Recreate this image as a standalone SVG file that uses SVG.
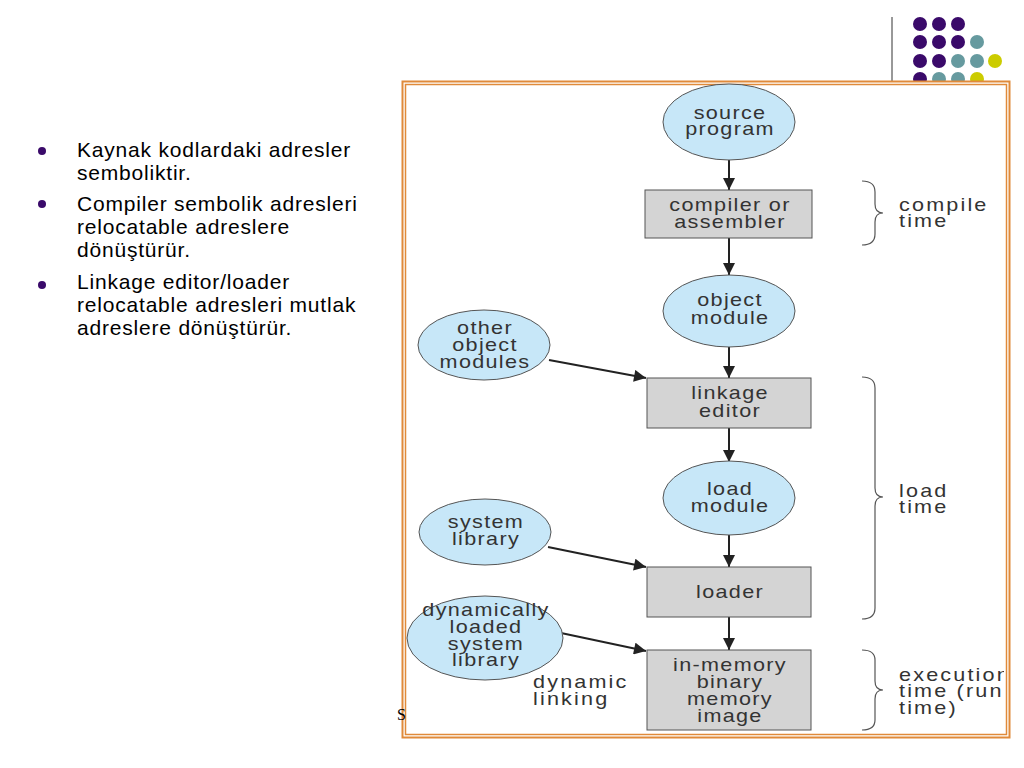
<svg xmlns="http://www.w3.org/2000/svg" width="1024" height="768" viewBox="0 0 1024 768">
<style>
.bt{font-family:"Liberation Sans",Arial,sans-serif;font-size:21px;fill:#000;letter-spacing:0.8px}
.t{font-family:"Liberation Sans",Arial,sans-serif;font-size:18px;fill:#333;text-anchor:middle;letter-spacing:1.1px}
.tl{font-family:"Liberation Sans",Arial,sans-serif;font-size:18px;fill:#333;letter-spacing:1.8px}
.el{fill:#c7e7f8;stroke:#555;stroke-width:1}
.bx{fill:#d4d4d4;stroke:#555;stroke-width:1}
.cn{stroke:#222;stroke-width:2;fill:none;marker-end:url(#ah)}
.br{stroke:#555;stroke-width:1.2;fill:none}
.p{fill:#3a0a6a}.g{fill:#669a9f}.y{fill:#cccc00}
</style>
<defs>
<marker id="ah" viewBox="0 0 10 10" refX="10" refY="5" markerWidth="6.5" markerHeight="6" markerUnits="strokeWidth" orient="auto">
<path d="M0,0L10,5L0,10z" fill="#222"/>
</marker>
<clipPath id="fc"><rect x="406" y="85" width="598" height="648"/></clipPath>
</defs>
<rect width="1024" height="768" fill="#fff"/>
<g id="deco">
<line x1="892" y1="17" x2="892" y2="83" stroke="#333" stroke-width="1"/>
<circle class="p" cx="920" cy="24" r="7"/><circle class="p" cx="939" cy="24" r="7"/><circle class="p" cx="958" cy="24" r="7"/>
<circle class="p" cx="920" cy="42" r="7"/><circle class="p" cx="939" cy="42" r="7"/><circle class="p" cx="958" cy="42" r="7"/><circle class="g" cx="977" cy="42" r="7"/>
<circle class="p" cx="920" cy="61" r="7"/><circle class="p" cx="939" cy="61" r="7"/><circle class="g" cx="958" cy="61" r="7"/><circle class="g" cx="977" cy="61" r="7"/><circle class="y" cx="995" cy="61" r="7"/>
<circle class="p" cx="920" cy="79" r="7"/><circle class="g" cx="939" cy="79" r="7"/><circle class="g" cx="958" cy="79" r="7"/><circle class="y" cx="977" cy="79" r="7"/>
</g>
<g id="bullets">
<circle class="p" cx="42" cy="151" r="4"/>
<circle class="p" cx="42" cy="204" r="4"/>
<circle class="p" cx="42" cy="285" r="4"/>
<text class="bt" x="77" y="157">Kaynak kodlardaki adresler</text>
<text class="bt" x="77" y="180">semboliktir.</text>
<text class="bt" x="77" y="211">Compiler sembolik adresleri</text>
<text class="bt" x="77" y="234">relocatable adreslere</text>
<text class="bt" x="77" y="257">dönüştürür.</text>
<text class="bt" x="77" y="289">Linkage editor/loader</text>
<text class="bt" x="77" y="312">relocatable adresleri mutlak</text>
<text class="bt" x="77" y="335">adreslere dönüştürür.</text>
</g>
<g id="frame">
<rect x="402.5" y="81.5" width="607" height="656" fill="#fff" stroke="#e08a3a" stroke-width="2"/>
<rect x="405.5" y="84.5" width="601" height="650" fill="#fff" stroke="#e08a3a" stroke-width="1.5"/>
</g>
<text x="397" y="720" font-family="Liberation Serif, serif" font-size="16" fill="#000">S</text>
<g id="connectors">
<line class="cn" x1="729" y1="160" x2="729" y2="190"/>
<line class="cn" x1="729" y1="238" x2="729" y2="275"/>
<line class="cn" x1="729" y1="347" x2="729" y2="378"/>
<line class="cn" x1="729" y1="428" x2="729" y2="462"/>
<line class="cn" x1="729" y1="535" x2="729" y2="567"/>
<line class="cn" x1="729" y1="617" x2="729" y2="650"/>
<line class="cn" x1="549" y1="360" x2="646" y2="378"/>
<line class="cn" x1="548" y1="547" x2="646" y2="567"/>
<line class="cn" x1="561" y1="633" x2="646" y2="651"/>
</g>
<g id="source"><ellipse class="el" cx="729" cy="122" rx="66" ry="38"/><text class="t" transform="matrix(1.2 0 0 1 730 119)">source</text><text class="t" transform="matrix(1.2 0 0 1 730 135)">program</text></g>
<g id="compiler"><rect class="bx" x="645" y="190" width="167" height="48"/><text class="t" transform="matrix(1.2 0 0 1 730 211)">compiler or</text><text class="t" transform="matrix(1.2 0 0 1 730 228)">assembler</text></g>
<g id="objmod"><ellipse class="el" cx="729" cy="311" rx="66" ry="36"/><text class="t" transform="matrix(1.2 0 0 1 730 306)">object</text><text class="t" transform="matrix(1.2 0 0 1 730 324)">module</text></g>
<g id="other"><ellipse class="el" cx="484" cy="345" rx="66" ry="35"/><text class="t" transform="matrix(1.2 0 0 1 485 334)">other</text><text class="t" transform="matrix(1.2 0 0 1 485 351)">object</text><text class="t" transform="matrix(1.2 0 0 1 485 368)">modules</text></g>
<g id="linkage"><rect class="bx" x="647" y="378" width="164" height="50"/><text class="t" transform="matrix(1.2 0 0 1 730 399)">linkage</text><text class="t" transform="matrix(1.2 0 0 1 730 417)">editor</text></g>
<g id="loadmod"><ellipse class="el" cx="729" cy="498" rx="66" ry="37"/><text class="t" transform="matrix(1.2 0 0 1 730 495)">load</text><text class="t" transform="matrix(1.2 0 0 1 730 512)">module</text></g>
<g id="syslib"><ellipse class="el" cx="485" cy="532" rx="66" ry="33"/><text class="t" transform="matrix(1.2 0 0 1 486 528)">system</text><text class="t" transform="matrix(1.2 0 0 1 486 545)">library</text></g>
<g id="loader"><rect class="bx" x="647" y="567" width="164" height="50"/><text class="t" transform="matrix(1.2 0 0 1 730 598)">loader</text></g>
<g id="dynlib"><ellipse class="el" cx="485" cy="638" rx="78" ry="42"/><text class="t" transform="matrix(1.2 0 0 1 486 616)">dynamically</text><text class="t" transform="matrix(1.2 0 0 1 486 633)">loaded</text><text class="t" transform="matrix(1.2 0 0 1 486 650)">system</text><text class="t" transform="matrix(1.2 0 0 1 486 666)">library</text></g>
<g id="inmem"><rect class="bx" x="647" y="650" width="164" height="80"/><text class="t" transform="matrix(1.2 0 0 1 730 671)">in-memory</text><text class="t" transform="matrix(1.2 0 0 1 730 688)">binary</text><text class="t" transform="matrix(1.2 0 0 1 730 705)">memory</text><text class="t" transform="matrix(1.2 0 0 1 730 722)">image</text></g>
<text class="tl" transform="matrix(1.2 0 0 1 533 688)">dynamic</text>
<text class="tl" transform="matrix(1.2 0 0 1 533 705)">linking</text>
<g id="braces">
<path class="br" d="M862,181 Q875,181 875,192 L875,204 Q875,213 883,213 Q875,213 875,222 L875,234 Q875,245 862,245"/>
<path class="br" d="M862,377 Q875,377 875,388 L875,488 Q875,497 883,497 Q875,497 875,506 L875,608 Q875,619 862,619"/>
<path class="br" d="M862,650 Q875,650 875,660 L875,681 Q875,690 883,690 Q875,690 875,699 L875,720 Q875,730 862,730"/>
</g>
<g id="times" clip-path="url(#fc)">
<text class="tl" transform="matrix(1.2 0 0 1 899 211)">compile</text>
<text class="tl" transform="matrix(1.2 0 0 1 899 227)">time</text>
<text class="tl" transform="matrix(1.2 0 0 1 899 497)">load</text>
<text class="tl" transform="matrix(1.2 0 0 1 899 513)">time</text>
<text class="tl" transform="matrix(1.2 0 0 1 899 681)">execution</text>
<text class="tl" transform="matrix(1.2 0 0 1 899 697)">time (run</text>
<text class="tl" transform="matrix(1.2 0 0 1 899 714)">time)</text>
</g>
</svg>
